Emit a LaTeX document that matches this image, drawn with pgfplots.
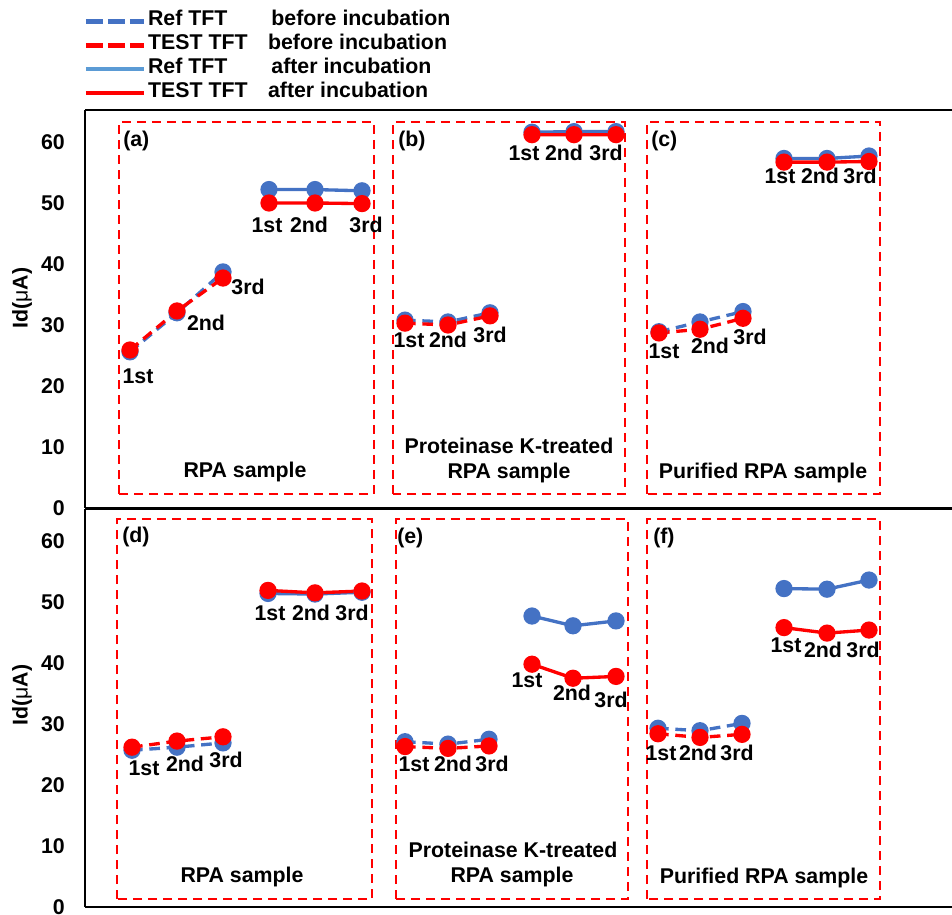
\documentclass[border=0pt]{standalone}
\usepackage{pgfplots}
\pgfplotsset{compat=1.18}
\usepackage{fontspec}
\setmainfont{Liberation Sans}
\definecolor{cblue}{HTML}{4472C4}
\definecolor{clblue}{HTML}{5B9BD5}
\definecolor{cred}{HTML}{FF0000}
\newcommand{\fs}{\fontsize{16}{18}\selectfont\bfseries}
\pgfplotsset{
  panel/.style={
    x=0.75pt, y=4.575pt,
    xmin=85, xmax=952, ymin=0, ymax=65.3,
    axis x line*=box, axis y line*=left,
    axis line style={line width=1.5pt,-},
    xtick=\empty,
    ytick={0,10,...,60},
    major tick length=0pt,
    yticklabel style={font=\fs, anchor=east, inner sep=0pt, xshift=-15pt},
    /pgf/number format/assume math mode=true,
    unbounded coords=jump,
    clip=false,
    anchor=south west,
  },
  bd/.style={color=cblue, line width=2.5pt, dash pattern=on 8pt off 5pt, mark=*, mark size=5.2pt, mark options={solid}},
  rd/.style={color=cred, line width=2.5pt, dash pattern=on 8pt off 5pt, mark=*, mark size=5.2pt, mark options={solid}},
  bs/.style={color=cblue, line width=2.5pt, solid, mark=*, mark size=5.2pt},
  rs/.style={color=cred, line width=2.5pt, solid, mark=*, mark size=5.2pt},
}
\tikzset{
  pbox/.style={cred, line width=1.5pt, dash pattern=on 6.75pt off 4.5pt},
  lab/.style={font=\fs, anchor=center, inner sep=0pt},
  pl/.style={font=\fs, anchor=west, inner sep=0pt},
}
\begin{document}
\begin{tikzpicture}
\useasboundingbox (0,0) rectangle (714pt,685.5pt);
% ---------------- top axis ----------------
\begin{axis}[panel, at={(63.75pt,304.5pt)},
  legend image code/.code={\draw[#1] (0pt,0pt) -- (43.5pt,0pt);},
  legend style={at={(axis description cs:-0.002,1.2513)}, anchor=north west, draw=none, fill=none,
    inner sep=0pt, row sep=0pt, font=\fs,
    nodes={inner sep=0pt, inner xsep=0pt, text height=12pt, text depth=5.8pt},
    /tikz/every odd column/.style={column sep=1.5pt}},
  legend cell align=left]
\addlegendimage{color=cblue, line width=3.4pt, dash pattern=on 12.75pt off 3.75pt}
\addlegendentry{\makebox[92.5pt][l]{Ref TFT}before incubation}
\addlegendimage{color=cred, line width=3.4pt, dash pattern=on 12.75pt off 3.75pt}
\addlegendentry{\makebox[90pt][l]{TEST TFT}before incubation}
\addlegendimage{color=clblue, line width=3.4pt}
\addlegendentry{\makebox[92.5pt][l]{Ref TFT}after incubation}
\addlegendimage{color=cred, line width=3.4pt}
\addlegendentry{\makebox[90pt][l]{TEST TFT}after incubation}

\draw[pbox] (axis cs:119,2.3) rectangle (axis cs:374,63.3);
\draw[pbox] (axis cs:393,2.3) rectangle (axis cs:625,63.3);
\draw[pbox] (axis cs:647,2.3) rectangle (axis cs:880,63.3);

\addplot[bd, forget plot] coordinates {(130,25.6) (177,32.0) (223,38.7) (300,nan) (405,30.8) (448,30.5) (490,32.0) (570,nan) (659,28.9) (700,30.5) (743,32.2)};
\addplot[rd, forget plot] coordinates {(130,25.9) (177,32.3) (223,37.7) (300,nan) (405,30.3) (448,30.0) (490,31.5) (570,nan) (659,28.7) (700,29.3) (743,31.1)};
\addplot[bs, forget plot] coordinates {(269,52.2) (315,52.2) (362,52.0) (450,nan) (532,61.6) (574,61.7) (616,61.7) (700,nan) (784,57.3) (827,57.3) (869,57.7)};
\addplot[rs, forget plot] coordinates {(269,50.0) (315,50.0) (362,49.9) (450,nan) (532,61.2) (574,61.2) (616,61.2) (700,nan) (784,56.7) (827,56.7) (869,56.8)};

\node[pl] at (axis cs:123,60.2) {(a)};
\node[pl] at (axis cs:398,60.2) {(b)};
\node[pl] at (axis cs:651,60.2) {(c)};
\node[lab] at (axis cs:138,21.6) {1st};
\node[lab] at (axis cs:206,30.3) {2nd};
\node[lab] at (axis cs:248,36.2) {3rd};
\node[lab] at (axis cs:267,46.4) {1st};
\node[lab] at (axis cs:309,46.4) {2nd};
\node[lab] at (axis cs:366,46.4) {3rd};
\node[lab] at (axis cs:245,5.9) {RPA sample};
\node[lab] at (axis cs:409,27.5) {1st};
\node[lab] at (axis cs:448,27.5) {2nd};
\node[lab] at (axis cs:490,28.4) {3rd};
\node[lab] at (axis cs:524,58.2) {1st};
\node[lab] at (axis cs:564,58.2) {2nd};
\node[lab] at (axis cs:606,58.2) {3rd};
\node[lab] at (axis cs:509,10.2) {Proteinase K-treated};
\node[lab] at (axis cs:509,5.7) {RPA sample};
\node[lab] at (axis cs:664,25.7) {1st};
\node[lab] at (axis cs:710,26.6) {2nd};
\node[lab] at (axis cs:750,28.0) {3rd};
\node[lab] at (axis cs:780,54.4) {1st};
\node[lab] at (axis cs:820,54.4) {2nd};
\node[lab] at (axis cs:860,54.4) {3rd};
\node[lab] at (axis cs:763,5.7) {Purified RPA sample};
\end{axis}
% ---------------- bottom axis ----------------
\begin{axis}[panel, at={(63.75pt,5.25pt)}]
\draw[pbox] (axis cs:117,1.3) rectangle (axis cs:372,63.6);
\draw[pbox] (axis cs:396,1.3) rectangle (axis cs:628,63.6);
\draw[pbox] (axis cs:647,1.3) rectangle (axis cs:880,63.6);

\addplot[bd] coordinates {(132,25.7) (177,26.2) (223,26.9) (300,nan) (405,27.1) (448,26.7) (489,27.5) (570,nan) (658,29.3) (700,28.9) (742,30.1)};
\addplot[rd] coordinates {(132,26.2) (177,27.2) (223,27.9) (300,nan) (405,26.3) (448,26.0) (489,26.4) (570,nan) (658,28.4) (700,27.8) (742,28.3)};
\addplot[bs] coordinates {(268,51.4) (315,51.3) (362,51.6) (450,nan) (532,47.7) (573,46.1) (616,46.9) (700,nan) (784,52.2) (827,52.1) (869,53.6)};
\addplot[rs] coordinates {(268,51.9) (315,51.5) (362,51.8) (450,nan) (532,39.8) (573,37.5) (616,37.8) (700,nan) (784,45.8) (827,44.9) (869,45.4)};

\node[pl] at (axis cs:122,60.7) {(d)};
\node[pl] at (axis cs:397,60.5) {(e)};
\node[pl] at (axis cs:653,60.5) {(f)};
\node[lab] at (axis cs:144,22.8) {1st};
\node[lab] at (axis cs:185,23.4) {2nd};
\node[lab] at (axis cs:226,24.1) {3rd};
\node[lab] at (axis cs:270,48.2) {1st};
\node[lab] at (axis cs:311,48.2) {2nd};
\node[lab] at (axis cs:352,48.2) {3rd};
\node[lab] at (axis cs:242,4.9) {RPA sample};
\node[lab] at (axis cs:414,23.4) {1st};
\node[lab] at (axis cs:453,23.4) {2nd};
\node[lab] at (axis cs:492,23.4) {3rd};
\node[lab] at (axis cs:527,37.2) {1st};
\node[lab] at (axis cs:572,35.1) {2nd};
\node[lab] at (axis cs:611,33.9) {3rd};
\node[lab] at (axis cs:513,9.3) {Proteinase K-treated};
\node[lab] at (axis cs:512,4.9) {RPA sample};
\node[lab] at (axis cs:661,25.2) {1st};
\node[lab] at (axis cs:698,25.2) {2nd};
\node[lab] at (axis cs:737,25.2) {3rd};
\node[lab] at (axis cs:786,42.9) {1st};
\node[lab] at (axis cs:823,42.1) {2nd};
\node[lab] at (axis cs:863,42.1) {3rd};
\node[lab] at (axis cs:764,4.75) {Purified RPA sample};
\end{axis}
\node[rotate=90, font=\fs] at (16.5pt,462pt) {Id({\mdseries μ}A)};
\node[rotate=90, font=\fs] at (16.5pt,164.25pt) {Id({\mdseries μ}A)};
\end{tikzpicture}
\end{document}
